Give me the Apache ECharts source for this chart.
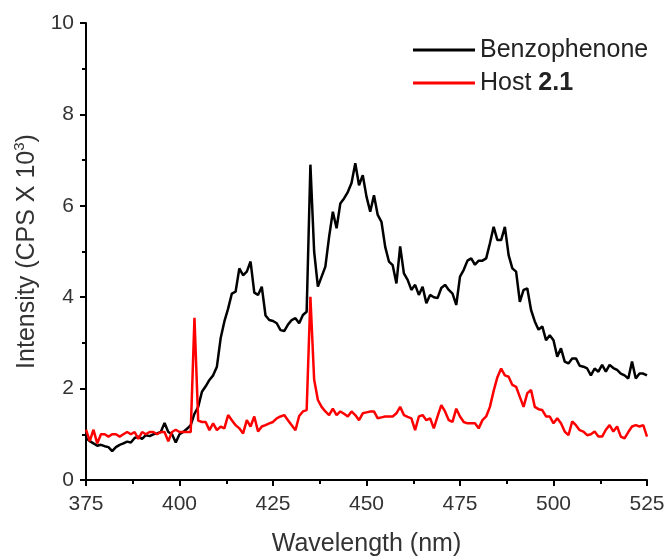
<!DOCTYPE html>
<html>
<head>
<meta charset="utf-8">
<script src="https://cdn.jsdelivr.net/npm/echarts@6/dist/echarts.min.js"></script>
<style>
html,body{margin:0;padding:0;background:#fff;}
#chart{width:665px;height:556px;}
</style>
</head>
<body>
<div id="chart"></div>
<script>
// Wavelength start/end (nm), 1 nm step
const wlStart = 375;
const wlEnd = 525;
const xTicks = [375, 400, 425, 450, 475, 500, 525];
const yTicks = [0, 2, 4, 6, 8, 10];
const seriesNames = ['Benzophenone', 'Host 2.1'];

// Intensity (CPS x 10^3) at 375..525 nm
const benzophenone = [
  0.92,0.85,0.80,0.75,0.77,0.74,0.72,0.63,0.72,0.77,
  0.80,0.84,0.82,0.92,0.95,0.90,0.98,0.96,1.00,1.02,
  1.05,1.25,1.05,1.00,0.82,1.00,1.05,1.12,1.20,1.45,
  1.60,1.93,2.05,2.19,2.29,2.48,3.10,3.47,3.75,4.08,
  4.12,4.63,4.48,4.56,4.78,4.10,4.05,4.23,3.60,3.50,
  3.48,3.43,3.28,3.26,3.40,3.50,3.54,3.43,3.61,3.68,
  6.90,5.00,4.23,4.45,4.67,5.32,5.87,5.51,6.05,6.16,
  6.30,6.50,6.93,6.45,6.67,6.20,5.87,6.23,5.80,5.65,
  5.10,4.78,4.70,4.30,5.11,4.52,4.38,4.16,4.27,4.05,
  4.23,3.87,4.05,4.00,3.98,4.20,4.27,4.16,4.08,3.83,
  4.45,4.60,4.80,4.85,4.71,4.80,4.80,4.85,5.18,5.54,
  5.25,5.25,5.54,4.92,4.63,4.56,3.90,4.16,4.19,3.72,
  3.47,3.29,3.36,3.06,3.17,3.06,2.70,2.88,2.59,2.55,
  2.66,2.66,2.50,2.48,2.44,2.29,2.44,2.37,2.52,2.37,
  2.52,2.45,2.41,2.33,2.29,2.22,2.59,2.22,2.33,2.33,
  2.29
];

const host21 = [
  1.10,0.85,1.10,0.80,1.00,1.00,0.95,1.00,1.00,0.95,
  1.00,1.05,1.00,1.05,0.90,1.05,1.00,1.05,1.05,1.00,
  1.05,1.05,0.85,1.05,1.10,1.05,1.05,1.05,1.05,3.55,
  1.30,1.27,1.27,1.09,1.24,1.09,1.17,1.13,1.42,1.31,
  1.20,1.13,1.02,1.31,1.17,1.39,1.06,1.17,1.20,1.24,
  1.27,1.35,1.39,1.42,1.31,1.20,1.09,1.40,1.50,1.53,
  4.01,2.20,1.75,1.60,1.50,1.42,1.56,1.42,1.50,1.45,
  1.39,1.50,1.42,1.31,1.46,1.48,1.50,1.50,1.35,1.37,
  1.39,1.39,1.39,1.46,1.60,1.42,1.38,1.35,1.09,1.39,
  1.42,1.31,1.35,1.13,1.39,1.64,1.50,1.31,1.27,1.56,
  1.39,1.27,1.24,1.24,1.24,1.13,1.31,1.39,1.60,1.95,
  2.25,2.44,2.29,2.26,2.08,2.04,1.82,1.60,1.90,1.97,
  1.60,1.55,1.53,1.39,1.39,1.24,1.35,1.24,1.06,0.98,
  1.28,1.20,1.09,1.06,0.98,1.00,1.06,0.95,0.95,1.10,
  1.20,1.06,1.17,0.95,0.91,1.05,1.17,1.20,1.17,1.20,
  0.95
];

function pairs(vals) {
  return vals.map((v, i) => [wlStart + i, v]);
}

const chart = echarts.init(document.getElementById('chart'), null, {renderer: 'canvas'});
const font = 'Liberation Sans, Arial, Helvetica, sans-serif';

chart.setOption({
  backgroundColor: '#ffffff',
  animation: false,
  grid: {left: 86, right: 18, top: 23, bottom: 76, containLabel: false, outerBoundsMode: 'none'},
  legend: {
    left: 408, top: 31, orient: 'vertical',
    itemWidth: 62, itemHeight: 3, itemGap: 5,
    icon: 'rect',
    data: seriesNames,
    formatter: function (name) {
      if (name === seriesNames[1]) {
        const parts = name.split(' ');
        return '{n|' + parts[0] + ' }{b|' + parts[1] + '}';
      }
      return '{n|' + name + '}';
    },
    textStyle: {
      fontFamily: font, fontSize: 25, color: '#222', lineHeight: 28,
      rich: {
        n: {fontFamily: font, fontSize: 25, color: '#222', lineHeight: 28},
        b: {fontFamily: font, fontSize: 25, color: '#222', fontWeight: 'bold', lineHeight: 28}
      }
    }
  },
  xAxis: {
    type: 'value', min: wlStart, max: wlEnd, interval: 25,
    name: 'Wavelength (nm)', nameLocation: 'middle', nameGap: 52,
    nameTextStyle: {fontFamily: font, fontSize: 25, color: '#333'},
    axisLine: {show: true, onZero: false, lineStyle: {color: '#000', width: 2}},
    axisTick: {show: true, inside: false, length: 6, lineStyle: {color: '#000', width: 2}},
    minorTick: {show: true, splitNumber: 2, length: 4, lineStyle: {color: '#000', width: 2}},
    splitLine: {show: false},
    axisLabel: {fontFamily: font, fontSize: 21, color: '#333', margin: 14,
      formatter: function (v) { return xTicks.indexOf(v) >= 0 ? String(v) : ''; }}
  },
  yAxis: {
    type: 'value', min: 0, max: 10, interval: 2,
    name: '{a|Intensity (CPS X 10}{s|3}{a|)}', nameLocation: 'middle', nameGap: 37, nameRotate: 90,
    nameTextStyle: {
      fontFamily: font, fontSize: 25, color: '#333',
      rich: {
        a: {fontFamily: font, fontSize: 25, color: '#333', lineHeight: 30},
        s: {fontFamily: font, fontSize: 15, color: '#333', verticalAlign: 'top', lineHeight: 30}
      }
    },
    axisLine: {show: true, onZero: false, lineStyle: {color: '#000', width: 2}},
    axisTick: {show: true, inside: false, length: 6, lineStyle: {color: '#000', width: 2}},
    minorTick: {show: true, splitNumber: 2, length: 4, lineStyle: {color: '#000', width: 2}},
    splitLine: {show: false},
    axisLabel: {fontFamily: font, fontSize: 21, color: '#333', margin: 12,
      formatter: function (v) { return yTicks.indexOf(v) >= 0 ? String(v) : ''; }}
  },
  series: [
    {
      name: seriesNames[0], type: 'line', data: pairs(benzophenone),
      showSymbol: false, symbol: 'none', smooth: false,
      lineStyle: {color: '#000000', width: 2.5}, itemStyle: {color: '#000000'}, z: 2
    },
    {
      name: seriesNames[1], type: 'line', data: pairs(host21),
      showSymbol: false, symbol: 'none', smooth: false,
      lineStyle: {color: '#ff0000', width: 2.5}, itemStyle: {color: '#ff0000'}, z: 3
    }
  ]
});
</script>
</body>
</html>
